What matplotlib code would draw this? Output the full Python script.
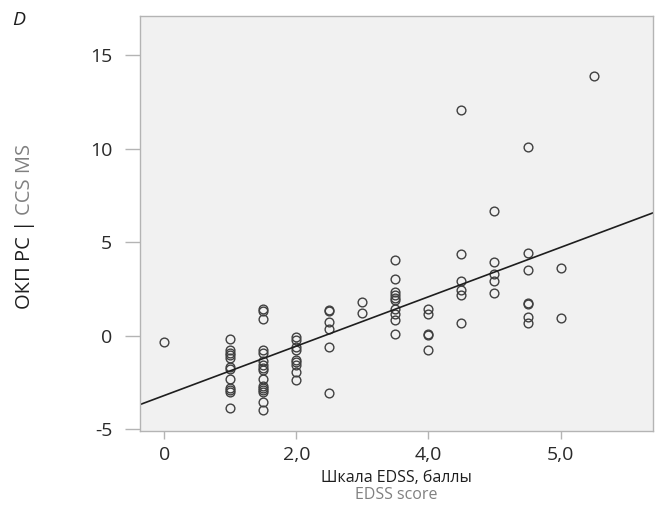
import matplotlib
matplotlib.use('Agg')
import matplotlib.pyplot as plt

plt.rcParams['font.family'] = ['Open Sans', 'DejaVu Sans']
plt.rcParams['axes.unicode_minus'] = False  # original uses a plain hyphen for -5

# EDSS score (x) and CCS MS value (y) for every patient
edss = ([0.0] + [1.0] * 12 + [1.5] * 16 + [2.0] * 9 + [2.5] * 6 + [3.0] * 2
        + [3.5] * 10 + [4.0] * 5 + [4.5] * 6 + [5.0] * 5 + [5.5] * 7 + [6.0] * 2 + [6.5])
ccs = ([-0.35]
       + [-0.18, -0.79, -0.91, -1.05, -1.18, -1.68, -1.80, -2.30, -2.78, -2.89, -3.02, -3.85]
       + [1.44, 1.32, 0.91, -0.79, -0.91, -1.37, -1.59, -1.73, -1.86, -2.30, -2.70, -2.80,
          -2.93, -3.02, -3.55, -3.99]
       + [-0.05, -0.25, -0.60, -0.75, -1.30, -1.40, -1.55, -1.95, -2.40]
       + [1.39, 1.30, 0.73, 0.37, -0.61, -3.07]
       + [1.80, 1.21]
       + [4.03, 3.01, 2.33, 2.16, 2.03, 1.89, 1.44, 1.18, 0.82, 0.11]
       + [1.40, 1.15, 0.10, 0.05, -0.75]
       + [12.05, 4.35, 2.90, 2.45, 2.20, 0.65]
       + [6.65, 3.95, 3.30, 2.90, 2.30]
       + [10.10, 4.40, 3.50, 1.75, 1.70, 1.00, 0.65]
       + [3.60, 0.95]
       + [13.90])

# regression line as printed on the chart
fit_intercept = -3.2
fit_slope = 1.32

xtick_pos = [0, 2, 4, 6]
xtick_labels = ['0', '2,0', '4,0', '5,0']  # labels as they appear in the original
ytick_pos = [-5, 0, 5, 10, 15]

fig = plt.figure(figsize=(6.61, 5.07), dpi=100)
ax = fig.add_axes([0.2118, 0.15, 0.776, 0.8184])
ax.set_facecolor('#f1f1f1')

ax.plot(edss, ccs, linestyle='none', marker='o', markersize=6.3, markerfacecolor='none',
        markeredgecolor='#404040', markeredgewidth=1.0)
ax.axline((0, fit_intercept), slope=fit_slope, color='#1e1e1e', linewidth=1.2)

ax.set_xlim(-0.37, 7.40)
ax.set_ylim(-5.1, 17.1)
ax.set_xticks(xtick_pos)
ax.set_xticklabels(xtick_labels)
ax.set_yticks(ytick_pos)

for s in ax.spines.values():
    s.set_color('#b4b4b4')
    s.set_linewidth(1.0)
ax.tick_params(axis='y', length=11, width=1, color='#b4b4b4', pad=9, labelsize=14, labelcolor='#2a2a2a')
ax.tick_params(axis='x', length=6, width=1, color='#b4b4b4', pad=5, labelsize=14, labelcolor='#2a2a2a')

# axis titles (two colours, russian + english)
fig.text(0.5998, 0.057, 'Шкала EDSS, баллы', ha='center', va='center', fontsize=11.5, color='#1e1e1e')
fig.text(0.5998, 0.023, 'EDSS score', ha='center', va='center', fontsize=11.5, color='#808080')
fig.text(0.038, 1 - 309 / 507, 'ОКП РС |', rotation=90, ha='center', va='bottom', fontsize=14.5, color='#1e1e1e')
fig.text(0.038, 1 - 215 / 507, 'CCS MS', rotation=90, ha='center', va='bottom', fontsize=14.5, color='#808080')
fig.text(0.019, 0.96, 'D', fontsize=14, style='italic', color='#1e1e1e', ha='left', va='center')

fig.savefig('out.png', dpi=100)
